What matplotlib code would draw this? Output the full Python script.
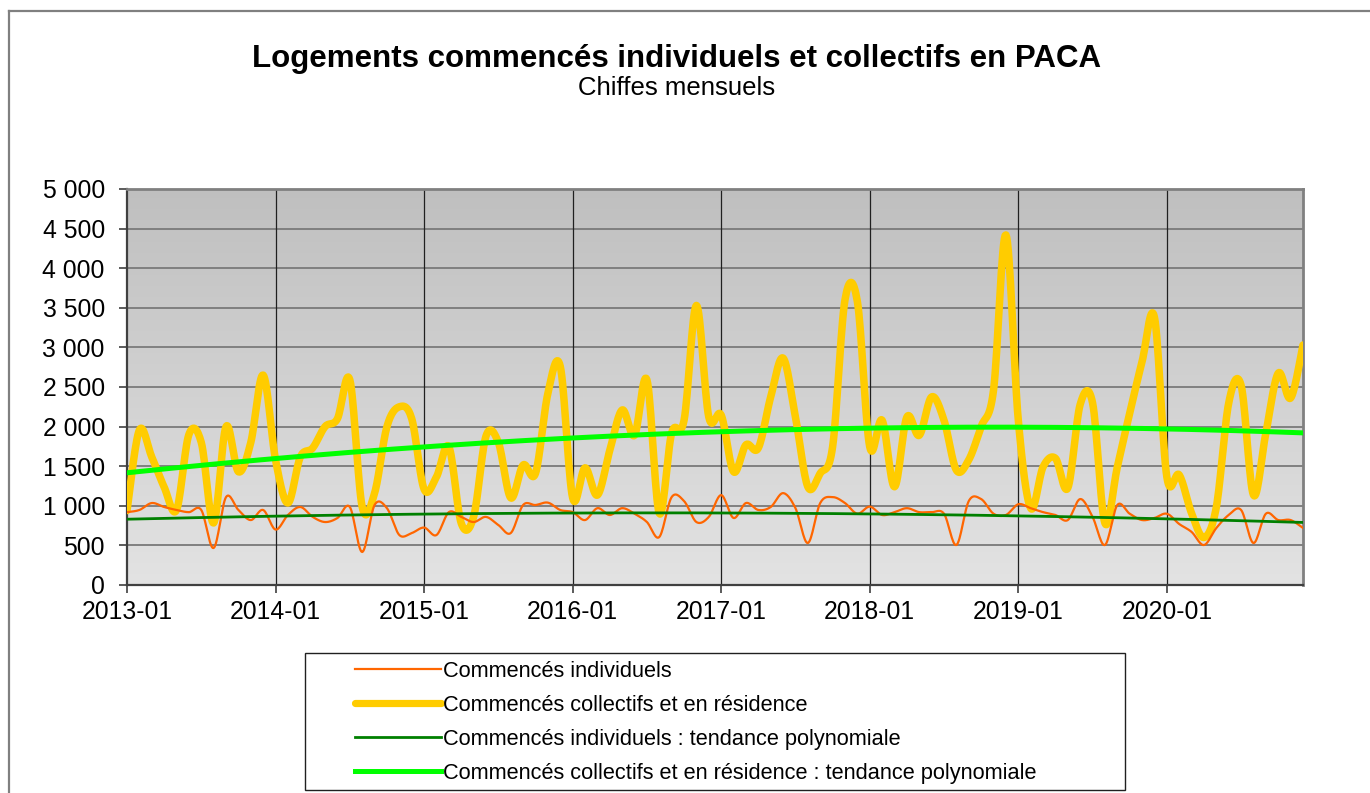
import numpy as np
import matplotlib
matplotlib.use("Agg")
import matplotlib.pyplot as plt
from matplotlib.lines import Line2D
from matplotlib.patches import Rectangle

plt.rcParams['font.family'] = ['Liberation Sans', 'DejaVu Sans']

# ---------------- data ----------------
year_labels = ["2013-01", "2014-01", "2015-01", "2016-01", "2017-01",
               "2018-01", "2019-01", "2020-01"]

individuels = [
    920, 947, 1035, 985, 947, 920, 947, 467, 1110, 947, 820, 947,
    700, 884, 985, 860, 795, 846, 985, 417, 1010, 970, 631, 656,
    725, 631, 920, 860, 795, 860, 757, 656, 1010, 1010, 1040, 947,
    920, 820, 970, 884, 970, 900, 795, 606, 1110, 1060, 795, 860,
    1135, 846, 1035, 947, 985, 1160, 970, 530, 1035, 1110, 1035, 900,
    990, 884, 920, 970, 920, 920, 900, 505, 1060, 1085, 900, 884,
    1020, 970, 920, 884, 820, 1085, 860, 505, 1010, 900, 820, 846,
    900, 770, 670, 505, 720, 884, 947, 530, 900, 820, 820, 720,
]

collectifs = [
    940, 1957, 1616, 1237, 947, 1900, 1800, 783, 2000, 1430, 1800, 2650,
    1580, 1035, 1616, 1730, 2000, 2100, 2590, 985, 1160, 2000, 2250, 2100,
    1210, 1365, 1745, 780, 860, 1880, 1800, 1100, 1515, 1410, 2420, 2760,
    1100, 1480, 1135, 1700, 2210, 1890, 2590, 905, 1920, 2080, 3530, 2120,
    2145, 1430, 1770, 1730, 2375, 2865, 2120, 1240, 1410, 1745, 3600, 3580,
    1745, 2080, 1240, 2120, 1890, 2375, 2080, 1450, 1580, 2000, 2460, 4420,
    2080, 970, 1490, 1600, 1225, 2280, 2300, 780, 1490, 2170, 2820, 3380,
    1365, 1390, 905, 600, 985, 2300, 2520, 1135, 1920, 2675, 2360, 3030,
]

y_ticks = [0, 500, 1000, 1500, 2000, 2500, 3000, 3500, 4000, 4500, 5000]

title = "Logements commencés individuels et collectifs en PACA"
subtitle = "Chiffes mensuels"
legend_labels = ["Commencés individuels",
                 "Commencés collectifs et en résidence",
                 "Commencés individuels : tendance polynomiale",
                 "Commencés collectifs et en résidence : tendance polynomiale"]

# ---------------- helpers ----------------
def smooth(xs, ys, n=16):
    xs = np.asarray(xs, float)
    ys = np.asarray(ys, float)
    outx, outy = [], []
    N = len(xs)
    t = np.linspace(0, 1, n, endpoint=False)
    for i in range(N - 1):
        i0 = max(i - 1, 0)
        i3 = min(i + 2, N - 1)
        for arr, out in ((xs, outx), (ys, outy)):
            p0, p1, p2, p3 = arr[i0], arr[i], arr[i + 1], arr[i3]
            c1 = p1 + (p2 - p0) / 6.0
            c2 = p2 - (p3 - p1) / 6.0
            b = ((1 - t) ** 3 * p1 + 3 * (1 - t) ** 2 * t * c1
                 + 3 * (1 - t) * t ** 2 * c2 + t ** 3 * p2)
            out.extend(b)
    outx.append(xs[-1])
    outy.append(ys[-1])
    return np.array(outx), np.array(outy)


W, H = 1370, 793
fig = plt.figure(figsize=(W / 100, H / 100), dpi=100)

ax_l, ax_r, ax_t, ax_b = 127, 1303, 189, 585
ax = fig.add_axes([ax_l / W, 1 - ax_b / H, (ax_r - ax_l) / W, (ax_b - ax_t) / H])

idx = np.arange(len(individuels))

# gradient background
grad = np.linspace(0, 1, 256).reshape(-1, 1)
top_c = np.array([0.75, 0.75, 0.75])
bot_c = np.array([0.89, 0.89, 0.89])
img = top_c + (bot_c - top_c) * grad
img = np.repeat(img[:, None, :], 2, axis=1).reshape(256, 2, 3)
ax.imshow(img, extent=[0, 1, 0, 1], transform=ax.transAxes, aspect='auto',
          zorder=0, interpolation='bilinear')

ax.set_xlim(0, len(idx) - 1)
ax.set_ylim(0, 5000)

# grid
for v in y_ticks[1:-1]:
    ax.axhline(v, color='#808080', lw=1.4, zorder=1)
for k in range(1, len(year_labels)):
    ax.axvline(k * 12, color='#202020', lw=0.9, zorder=1)

# series
sx, sy = smooth(idx, collectifs)
ax.plot(sx, sy, color='#ffcc00', lw=5.4, solid_capstyle='round', zorder=3)
sx, sy = smooth(idx, individuels)
ax.plot(sx, sy, color='#ff6600', lw=1.6, zorder=4)

# polynomial trends
ci = np.polyfit(idx, individuels, 2)
cc = np.polyfit(idx, collectifs, 2)
xx = np.linspace(0, len(idx) - 1, 400)
ax.plot(xx, np.polyval(ci, xx), color='#008000', lw=2.0, zorder=5)
ax.plot(xx, np.polyval(cc, xx), color='#00ff00', lw=3.6, zorder=5)

# ticks
ax.set_yticks(y_ticks)
ax.set_yticklabels([f"{v:,}".replace(",", " ") for v in y_ticks])
ax.set_xticks([k * 12 for k in range(len(year_labels))])
ax.set_xticklabels(year_labels)
ax.tick_params(axis='both', labelsize=17.8, length=6, width=1.2, color='#404040',
               direction='out')
ax.tick_params(axis='y', pad=10)
ax.tick_params(axis='x', pad=5)

for side in ('top', 'right'):
    ax.spines[side].set_color('#808080')
    ax.spines[side].set_linewidth(2.0)
for side in ('left', 'bottom'):
    ax.spines[side].set_color('#404040')
    ax.spines[side].set_linewidth(1.6)

# title
fig.text(677 / W, 1 - 59 / H, title, ha='center', va='center', fontsize=22.5,
         fontweight='bold')
fig.text(677 / W, 1 - 88 / H, subtitle, ha='center', va='center', fontsize=18.5)

# outer frame (left and top)
fig.add_artist(Line2D([9 / W, 9 / W], [0, 1 - 11 / H], transform=fig.transFigure,
                      color='#808080', lw=1.6))
fig.add_artist(Line2D([9 / W, 1], [1 - 11 / H, 1 - 11 / H], transform=fig.transFigure,
                      color='#808080', lw=1.6))

# legend box
fig.add_artist(Rectangle((305 / W, 1 - 790 / H), (1125 - 305) / W, (790 - 653) / H,
                         transform=fig.transFigure, facecolor='white',
                         edgecolor='#202020', lw=1.0))
handles = [Line2D([], [], color='#ff6600', lw=1.6),
           Line2D([], [], color='#ffcc00', lw=5.2, solid_capstyle='round'),
           Line2D([], [], color='#008000', lw=2.0),
           Line2D([], [], color='#00ff00', lw=3.6)]
leg = fig.legend(handles, legend_labels, loc='upper left',
                 bbox_to_anchor=(346 / W, 1 - 652 / H), frameon=False,
                 fontsize=15.7, handlelength=3.95, handletextpad=0.1,
                 labelspacing=0.6, borderaxespad=0)

fig.savefig("out.png", dpi=100)
